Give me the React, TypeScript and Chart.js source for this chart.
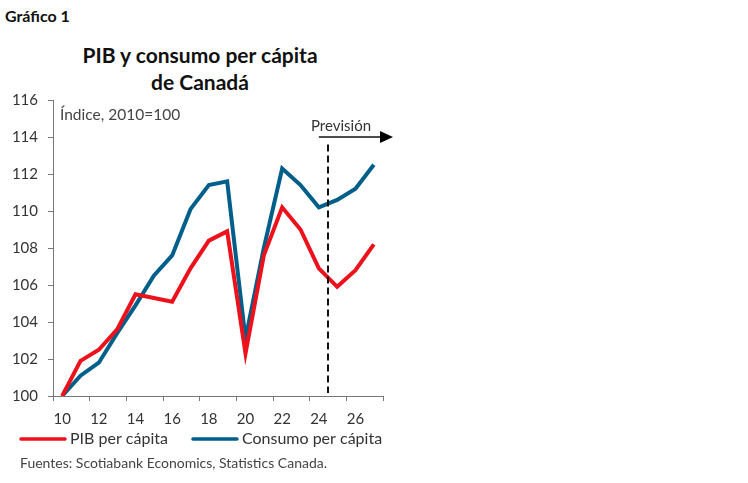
import { useEffect, useRef } from "react";
import { Chart, registerables } from "chart.js";

Chart.register(...registerables);

// years 2010-2027, shown as two-digit labels
const years = ["10", "11", "12", "13", "14", "15", "16", "17", "18", "19", "20", "21", "22", "23", "24", "25", "26", "27"];
const pibPerCapita = [100, 101.9, 102.5, 103.6, 105.5, 105.3, 105.1, 106.9, 108.4, 108.9, 102.3, 107.6, 110.2, 109.0, 106.9, 105.9, 106.8, 108.2];
const consumoPerCapita = [100, 101.1, 101.8, 103.4, 104.9, 106.5, 107.6, 110.1, 111.4, 111.6, 103.1, 108.0, 112.3, 111.4, 110.2, 110.6, 111.2, 112.5];
const yTicks = [100, 102, 104, 106, 108, 110, 112, 114, 116];

// forecast marker: starts after this year
const lastActualYear = "24";
const arrowLevel = 114;
const dashTop = 113.6;

const RED = "#ec111a";
const BLUE = "#005f8a";
const FONT = "Lato";
const TEXT = "#333";

const forecastPlugin = {
  id: "forecast",
  afterDatasetsDraw(chart: any) {
    const { ctx, chartArea } = chart;
    const x = chart.scales.x;
    const y = chart.scales.y;
    const i = years.indexOf(lastActualYear);
    const xStart = x.getPixelForValue(i);
    const xDash = (xStart + x.getPixelForValue(i + 1)) / 2;
    const ay = y.getPixelForValue(arrowLevel);
    const tip = chartArea.right + 10;

    ctx.save();
    // dashed line
    ctx.strokeStyle = "#111";
    ctx.lineWidth = 2;
    ctx.setLineDash([7, 4]);
    ctx.beginPath();
    ctx.moveTo(xDash, y.getPixelForValue(dashTop));
    ctx.lineTo(xDash, chartArea.bottom - 3);
    ctx.stroke();

    // arrow
    ctx.setLineDash([]);
    ctx.lineWidth = 1.5;
    ctx.beginPath();
    ctx.moveTo(xStart, ay);
    ctx.lineTo(tip - 12, ay);
    ctx.stroke();
    ctx.fillStyle = "#000";
    ctx.beginPath();
    ctx.moveTo(tip, ay);
    ctx.lineTo(tip - 13, ay - 6);
    ctx.lineTo(tip - 13, ay + 6);
    ctx.closePath();
    ctx.fill();

    ctx.fillStyle = TEXT;
    ctx.font = `15px ${FONT}`;
    ctx.textBaseline = "middle";
    ctx.textAlign = "center";
    ctx.fillText("Previsión", xDash + 13, ay - 11);

    ctx.fillStyle = "#444";
    ctx.textAlign = "left";
    ctx.font = `15.5px ${FONT}`;
    ctx.fillText("Índice, 2010=100", chartArea.left + 7, y.getPixelForValue(115.2));
    ctx.restore();
  },
  // legend under the axis, one row, line samples
  afterDraw(chart: any) {
    const { ctx } = chart;
    const ly = chart.scales.x.bottom + 11;
    let cx = 20;
    ctx.save();
    ctx.font = `16px ${FONT}`;
    ctx.textBaseline = "middle";
    ctx.textAlign = "left";
    chart.data.datasets.forEach((ds: any) => {
      ctx.strokeStyle = ds.borderColor;
      ctx.lineWidth = 3.5;
      ctx.lineCap = "round";
      ctx.beginPath();
      ctx.moveTo(cx + 1, ly);
      ctx.lineTo(cx + 45, ly);
      ctx.stroke();
      ctx.fillStyle = TEXT;
      ctx.fillText(ds.label, cx + 50, ly);
      cx += 50 + ctx.measureText(ds.label).width + 24;
    });
    ctx.restore();
  },
};

export default function App() {
  const canvasEl = useRef<HTMLCanvasElement>(null);

  useEffect(() => {
    const chart = new Chart(canvasEl.current!, {
      type: "line",
      data: {
        labels: years,
        datasets: [
          {
            label: "PIB per cápita",
            data: pibPerCapita,
            borderColor: RED,
            backgroundColor: RED,
            borderWidth: 4,
            pointRadius: 0,
          },
          {
            label: "Consumo per cápita",
            data: consumoPerCapita,
            borderColor: BLUE,
            backgroundColor: BLUE,
            borderWidth: 4,
            pointRadius: 0,
          },
        ],
      },
      options: {
        responsive: false,
        animation: false,
        layout: { padding: { top: 100, left: 0, right: 365, bottom: 55 } },
        plugins: {
          title: { display: false },
          tooltip: { enabled: false },
          legend: { display: false },
        },
        scales: {
          x: {
            type: "category",
            offset: true,
            afterFit: (s: any) => {
              s.height = 32;
            },
            grid: {
              offset: true,
              drawOnChartArea: false,
              tickLength: 5,
              tickColor: (c: any) => (c.index === undefined || c.index % 2 === 0 ? "#777" : "rgba(0,0,0,0)"),
            },
            border: { color: "#777", width: 1 },
            ticks: {
              autoSkip: false,
              maxRotation: 0,
              padding: 9,
              color: TEXT,
              font: { family: FONT, size: 15 },
              callback: (_v: any, i: number) => (i % 2 === 0 ? years[i] : ""),
            },
          },
          y: {
            min: yTicks[0],
            max: yTicks[yTicks.length - 1],
            afterFit: (s: any) => {
              s.width = 53;
            },
            afterBuildTicks: (s: any) => {
              s.ticks = yTicks.map((v) => ({ value: v }));
            },
            grid: { drawOnChartArea: false, tickLength: 5, tickColor: "#777" },
            border: { color: "#777", width: 1 },
            ticks: {
              padding: 10,
              color: TEXT,
              font: { family: FONT, size: 15 },
            },
          },
        },
      },
      plugins: [forecastPlugin],
    });
    return () => {
      chart.destroy();
    };
  }, []);

  return (
    <div style={{ position: "absolute", left: 0, top: 0, width: 748, height: 483, background: "#fff", fontFamily: FONT }}>
      <div style={{ position: "absolute", left: 5, top: 6, fontWeight: 700, fontSize: 16, lineHeight: "19px", color: "#111" }}>
        Gráfico 1
      </div>
      <div
        style={{
          position: "absolute",
          left: 0,
          top: 41,
          width: 400,
          textAlign: "center",
          fontWeight: 700,
          fontSize: 21,
          lineHeight: "27px",
          color: "#111",
        }}
      >
        PIB y consumo per cápita
        <br />
        de Canadá
      </div>
      <canvas ref={canvasEl} width={748} height={483} style={{ position: "absolute", left: 0, top: 0 }} />
      <div style={{ position: "absolute", left: 20, top: 455, fontSize: 14, lineHeight: "16px", color: "#444" }}>
        Fuentes: Scotiabank Economics, Statistics Canada.
      </div>
    </div>
  );
}
